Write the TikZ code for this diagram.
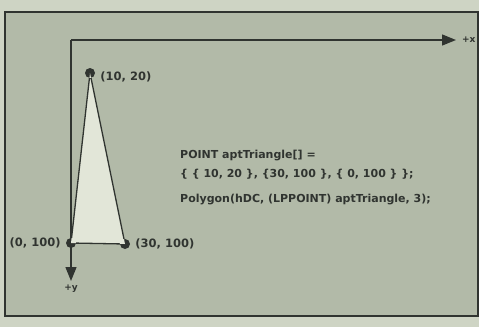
\documentclass[tikz,border=0pt]{standalone}
\usepackage{fontspec}
\setmainfont{DejaVu Sans}
\usetikzlibrary{positioning,arrows.meta}
\definecolor{PaperLight}{RGB}{206,212,196}
\definecolor{PaperGrey}{RGB}{178,186,168}
\definecolor{TriFill}{RGB}{226,230,216}
\definecolor{InkDark}{RGB}{48,52,48}

\begin{document}
\begin{tikzpicture}[x=1pt,y=-1pt,
pt/.style={circle,fill=InkDark,inner sep=0pt,minimum size=10pt},
lbl/.style={font=\bfseries\fontsize{11.5}{13}\selectfont,text=InkDark,inner sep=1pt},
axlbl/.style={font=\bfseries\fontsize{9}{11}\selectfont,text=InkDark,inner sep=1pt},
code/.style={font=\bfseries\fontsize{11}{19}\selectfont,text=InkDark,align=left,anchor=west,inner sep=0pt},
axis/.style={-{Triangle[length=14pt,width=11pt]},line width=1.4pt,draw=InkDark},
edge/.style={line width=1.3pt,draw=InkDark}
]
\fill[PaperLight] (0,0) rectangle (479,327);
\draw[line width=1.6pt,draw=InkDark,fill=PaperGrey] (5,12) rectangle (478,316);
% axes
\coordinate (o) at (71,40);
\coordinate (xend) at (456,40);
\coordinate (yend) at (71,281);
\draw[axis] (o)--(xend);
\draw[axis] (o)--(yend);
\node[axlbl,right=5pt of xend] (xl) {+x};
\node[axlbl,below=3pt of yend] (yl) {+y};
% triangle
\node[pt] (p1) at (90,73) {};
\node[pt] (p2) at (125,244) {};
\node[pt] (p3) at (71,243) {};
\fill[TriFill] (p1.center)--(p2.center)--(p3.center)--cycle;
\draw[edge] (p1)--(p2)--(p3)--(p1);
\node[lbl,right=4pt of p1,yshift=-4pt] (l1) {(10, 20)};
\node[lbl,right=4pt of p2] (l2) {(30, 100)};
\node[lbl,left=4pt of p3] (l3) {(0, 100)};
% code
\node[code] (c1) at (180,164.5) {POINT aptTriangle[] =\\\{ \{ 10, 20 \}, \{30, 100 \}, \{ 0, 100 \} \};};
\node[code] (c2) at (180,200) {Polygon(hDC, (LPPOINT) aptTriangle, 3);};
\end{tikzpicture}
\end{document}
